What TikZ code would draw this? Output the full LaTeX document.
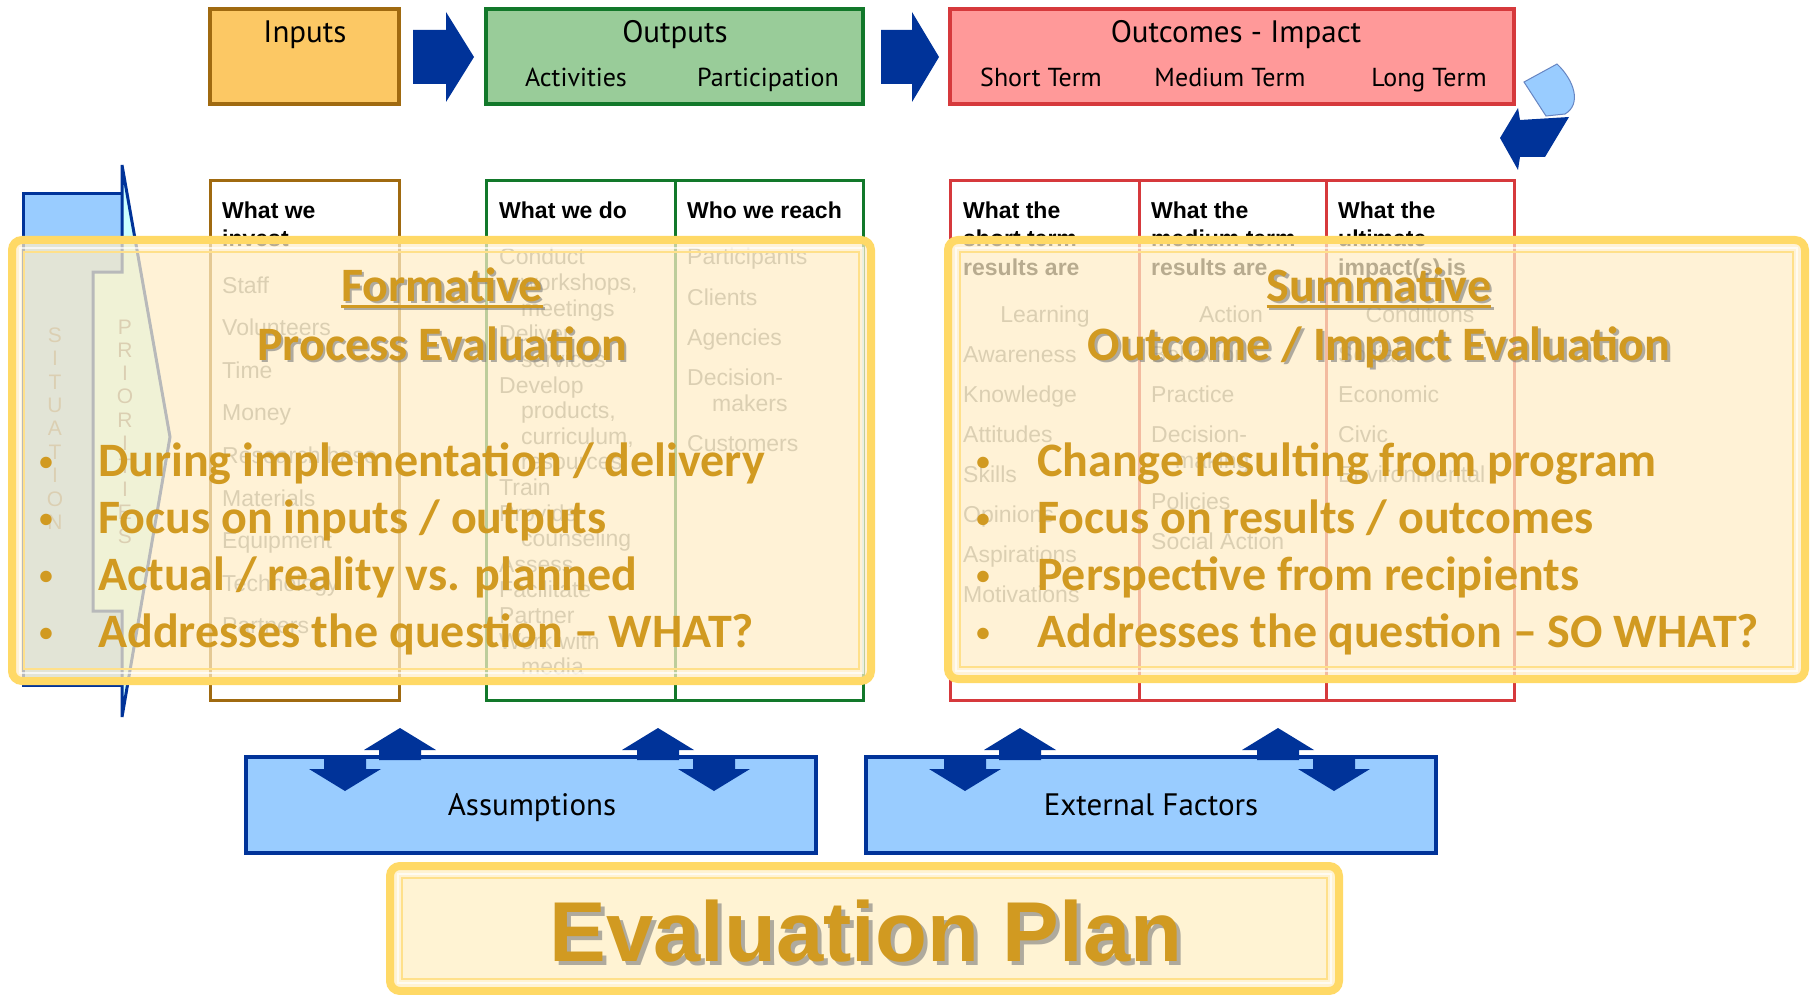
\documentclass[tikz,border=0pt]{standalone}
\usepackage{fontspec}
\setmainfont{Liberation Sans}
\newfontfamily\ptsfont{PT Sans}
\newfontfamily\calfont{Carlito}
\definecolor{cInBrd}{HTML}{A06A10}
\definecolor{cInFill}{HTML}{FCC864}
\definecolor{cOutBrd}{HTML}{12782A}
\definecolor{cOutFill}{HTML}{99CC99}
\definecolor{cOcBrd}{HTML}{D6393C}
\definecolor{cOcFill}{HTML}{FF9999}
\definecolor{cDBlue}{HTML}{003399}
\definecolor{cLBlue}{HTML}{99CCFF}
\definecolor{cCyan}{HTML}{CCFFFF}
\definecolor{cGray}{HTML}{7F7F7F}
\definecolor{cOvFill}{HTML}{FFEEC7}
\definecolor{cOvBrd}{HTML}{FFD966}
\definecolor{cOvIn}{HTML}{FFE08A}
\definecolor{cEvFill}{HTML}{FFF3D3}
\definecolor{cGold}{HTML}{D19A21}
\definecolor{cShadow}{HTML}{7A7A7A}
\begin{document}
\begin{tikzpicture}[x=1pt,y=-1pt,
  lbl/.style={inner sep=0pt, anchor=base},
  ttl/.style={lbl, font=\ptsfont\fontsize{31}{31}\selectfont},
  sublbl/.style={lbl, font=\ptsfont\fontsize{26}{26}\selectfont},
  btmlbl/.style={lbl, font=\ptsfont\fontsize{31}{31}\selectfont},
  hdr/.style={lbl, anchor=base west, font=\bfseries\fontsize{23}{23}\selectfont},
  itm/.style={lbl, anchor=base west, text=cGray, font=\fontsize{23}{23}\selectfont},
  itmc/.style={lbl, text=cGray, font=\fontsize{23}{23}\selectfont},
  letter/.style={inner sep=0pt, anchor=center, text=cGray, font=\fontsize{21}{21}\selectfont},
  topbox/.style={line width=3.5pt},
  lowbox/.style={line width=3pt, fill=white},
  blk/.style={fill=cDBlue},
  ovl/.style={fill=cOvFill, fill opacity=0.72, rounded corners=10pt},
  ovlbrd/.style={draw=cOvBrd, line width=8pt, rounded corners=10pt},
  ovlin/.style={draw=cOvIn, line width=2.5pt},
  ovlwh/.style={draw=white, opacity=0.7, line width=1.5pt},
  ttlgold/.style={lbl, text=cGold, font=\calfont\bfseries\fontsize{48}{48}\selectfont},
  ttlshad/.style={lbl, text=cShadow, text opacity=0.6, font=\calfont\bfseries\fontsize{48}{48}\selectfont},
  bul/.style={lbl, anchor=base west, text=cGold, font=\calfont\bfseries\fontsize{48}{48}\selectfont},
  buldot/.style={lbl, text=cGold, font=\calfont\bfseries\fontsize{27}{27}\selectfont}
]
\useasboundingbox (0,0) rectangle (1810,995);
\fill[white] (0,0) rectangle (1810,995);

% ---------- top row ----------
\draw[topbox, draw=cInBrd, fill=cInFill] (210,9) rectangle (399,104);
\draw[topbox, draw=cOutBrd, fill=cOutFill] (486,9) rectangle (863,104);
\draw[topbox, draw=cOcBrd, fill=cOcFill] (950,9) rectangle (1514,104);
\node[ttl] (tInputs) at (305,43) {Inputs};
\node[ttl] (tOutputs) at (675,43) {Outputs};
\node[ttl] (tOutcomes) at (1236,43) {Outcomes - Impact};
\node[sublbl] (tAct) at (576,87) {Activities};
\node[sublbl] (tPart) at (768,87) {Participation};
\node[sublbl] (tST) at (1041,87) {Short Term};
\node[sublbl] (tMT) at (1230,87) {Medium Term};
\node[sublbl] (tLT) at (1429,87) {Long Term};

% block arrows
\fill[blk] (413,30) -- (446,30) -- (446,12) -- (474,57) -- (446,102) -- (446,84) -- (413,84) -- cycle;
\fill[blk] (881,30) -- (912,30) -- (912,12) -- (939,57) -- (912,102) -- (912,84) -- (881,84) -- cycle;
% curved return arrow
\draw[fill=cLBlue, draw=cDBlue!60, line width=1pt] (1524,82) -- (1557,64) .. controls (1574,80) and (1582,104) .. (1565,114) -- (1546,116) -- cycle;
\fill[blk] (1500,138) -- (1518,108) -- (1520,120) -- (1569,117) -- (1545,157) -- (1520,157) -- (1518,170) -- cycle;

% ---------- lower columns ----------
\draw[lowbox, draw=cInBrd] (210,181) rectangle (399,700);
\draw[lowbox, draw=cOutBrd] (486,181) rectangle (863,700);
\draw[line width=3pt, draw=cOutBrd] (675,181) -- (675,700);
\draw[lowbox, draw=cOcBrd] (950,181) rectangle (1514,700);
\draw[line width=3pt, draw=cOcBrd] (1139,181) -- (1139,700);
\draw[line width=3pt, draw=cOcBrd] (1326,181) -- (1326,700);

% headers
\node[hdr] (hIn1) at (222,219) {What we};
\node[hdr] (hIn2) at (222,247) {invest};
\node[hdr] (hAct) at (499,219) {What we do};
\node[hdr] (hPar) at (687,219) {Who we reach};
\node[hdr] (hS1) at (963,219) {What the};
\node[hdr] (hS2) at (963,247) {short term};
\node[hdr] (hS3) at (963,275) {results are};
\node[hdr] (hM1) at (1151,219) {What the};
\node[hdr] (hM2) at (1151,247) {medium term};
\node[hdr] (hM3) at (1151,275) {results are};
\node[hdr] (hL1) at (1338,219) {What the};
\node[hdr] (hL2) at (1338,247) {ultimate};
\node[hdr] (hL3) at (1338,275) {impact(s) is};

% items
\foreach \t [count=\i from 0] in {Staff,Volunteers,Time,Money,Research base,Materials,Equipment,Technology,Partners}
  \node[itm] (in\i) at (222,{293+42.6*\i}) {\t};
\foreach \d/\t [count=\i from 0] in {0/Conduct,22/{workshops,},22/meetings,0/Deliver,22/services,0/Develop,22/{products,},22/{curriculum,},22/resources,0/Train,0/Provide,22/counseling,0/Assess,0/Facilitate,0/Partner,0/Work with,22/media}
  \node[itm] (act\i) at ({499+\d},{265+25.6*\i}) {\t};
\node[itm] (par0) at (687,265) {Participants};
\node[itm] (par1) at (687,305) {Clients};
\node[itm] (par2) at (687,345) {Agencies};
\node[itm] (par3) at (687,385) {Decision-};
\node[itm] (par4) at (712,411) {makers};
\node[itm] (par5) at (687,451) {Customers};
\node[itmc] (stL) at (1045,322) {Learning};
\foreach \t [count=\i from 0] in {Awareness,Knowledge,Attitudes,Skills,Opinions,Aspirations,Motivations}
  \node[itm] (st\i) at (963,{362+40*\i}) {\t};
\node[itmc] (mtA) at (1231,322) {Action};
\node[itm] (mt0) at (1151,362) {Behavior};
\node[itm] (mt1) at (1151,402) {Practice};
\node[itm] (mt2) at (1151,442) {Decision-};
\node[itm] (mt3) at (1175,468) {making};
\node[itm] (mt4) at (1151,509) {Policies};
\node[itm] (mt5) at (1151,549) {Social Action};
\node[itmc] (ltC) at (1420,322) {Conditions};
\foreach \t [count=\i from 0] in {Social,Economic,Civic,Environmental}
  \node[itm] (lt\i) at (1338,{362+40*\i}) {\t};

% situation / priorities
\draw[line width=3pt, draw=cDBlue, fill=cLBlue] (23,194) rectangle (122,685);
\draw[line width=3pt, draw=cDBlue, fill=cCyan, line join=miter] (93,272) -- (122,272) -- (122,165) -- (170,437) -- (122,717) -- (122,611) -- (93,611) -- cycle;
\foreach \l [count=\i from 0] in {S,I,T,U,A,T,I,O,N}
  \node[letter] (sit\i) at (55,{335+23.4*\i}) {\l};
\foreach \l [count=\i from 0] in {P,R,I,O,R,I,T,I,E,S}
  \node[letter] (pri\i) at (125,{327+23.2*\i}) {\l};

% ---------- bottom boxes ----------
\draw[line width=4pt, draw=cDBlue, fill=cLBlue] (246,757) rectangle (816,853);
\draw[line width=4pt, draw=cDBlue, fill=cLBlue] (866,757) rectangle (1436,853);
\node[btmlbl] (assum) at (532,815) {Assumptions};
\node[btmlbl] (ext) at (1151,815) {External Factors};
\foreach \c in {400,658,1020,1278}
  \fill[blk] ({\c-21},760) -- ({\c-21},750) -- ({\c-36},750) -- (\c,728) -- ({\c+36},750) -- ({\c+21},750) -- ({\c+21},760) -- cycle;
\foreach \c in {345,714,965,1334}
  \fill[blk] ({\c-21},756) -- ({\c-21},769) -- ({\c-36},769) -- (\c,791) -- ({\c+36},769) -- ({\c+21},769) -- ({\c+21},756) -- cycle;

% ---------- overlays ----------
\fill[ovl] (12,240) rectangle (871,681);
\draw[ovlwh] (20,248) rectangle (863,673);
\draw[ovlin] (24,252) rectangle (859,669);
\draw[ovlbrd] (12,240) rectangle (871,681);

\fill[ovl] (948,240) rectangle (1805,679);
\draw[ovlwh] (956,248) rectangle (1797,671);
\draw[ovlin] (960,252) rectangle (1793,667);
\draw[ovlbrd] (948,240) rectangle (1805,679);

% formative texts
\node[ttlshad] (formS) at (444.5,303.5) {Formative};
\draw[cShadow, opacity=0.6, line width=3pt] ([yshift=-5pt]formS.base west) -- ([yshift=-5pt]formS.base east);
\node[ttlgold] (form) at (442,301) {Formative};
\draw[cGold, line width=3pt] ([yshift=-5pt]form.base west) -- ([yshift=-5pt]form.base east);
\node[ttlshad] (procS) at (444.5,362.5) {Process Evaluation};
\node[ttlgold] (proc) at (442,360) {Process Evaluation};

\foreach \t [count=\i from 0] in {During implementation / delivery,Focus on inputs / outputs,Actual / reality vs. planned,Addresses the question – WHAT?}{
  \node[buldot] (fd\i) at (46,{470+57.3*\i}) {•};
  \node[bul] (fb\i) at (98,{476+57.3*\i}) {\t};
}

% summative texts
\node[ttlshad] (sumS) at (1381.5,303.5) {Summative};
\draw[cShadow, opacity=0.6, line width=3pt] ([yshift=-5pt]sumS.base west) -- ([yshift=-5pt]sumS.base east);
\node[ttlgold] (sum) at (1379,301) {Summative};
\draw[cGold, line width=3pt] ([yshift=-5pt]sum.base west) -- ([yshift=-5pt]sum.base east);
\node[ttlshad] (outS) at (1381.5,362.5) {Outcome / Impact Evaluation};
\node[ttlgold] (out) at (1379,360) {Outcome / Impact Evaluation};

\foreach \t [count=\i from 0] in {Change resulting from program,Focus on results / outcomes,Perspective from recipients,Addresses the question – SO WHAT?}{
  \node[buldot] (sd\i) at (983,{470+57.3*\i}) {•};
  \node[bul] (sb\i) at (1037,{476+57.3*\i}) {\t};
}

% ---------- evaluation plan ----------
\fill[cEvFill, rounded corners=10pt] (390,866) rectangle (1339,991);
\draw[ovlwh] (398,874) rectangle (1331,983);
\draw[ovlin] (402,878) rectangle (1327,979);
\draw[ovlbrd] (390,866) rectangle (1339,991);
\node[lbl, text=cShadow, text opacity=0.6, font=\bfseries\fontsize{85}{85}\selectfont] (evS) at (870,965) {Evaluation Plan};
\node[lbl, text=cGold, font=\bfseries\fontsize{85}{85}\selectfont] (ev) at (866,961) {Evaluation Plan};
\end{tikzpicture}
\end{document}
